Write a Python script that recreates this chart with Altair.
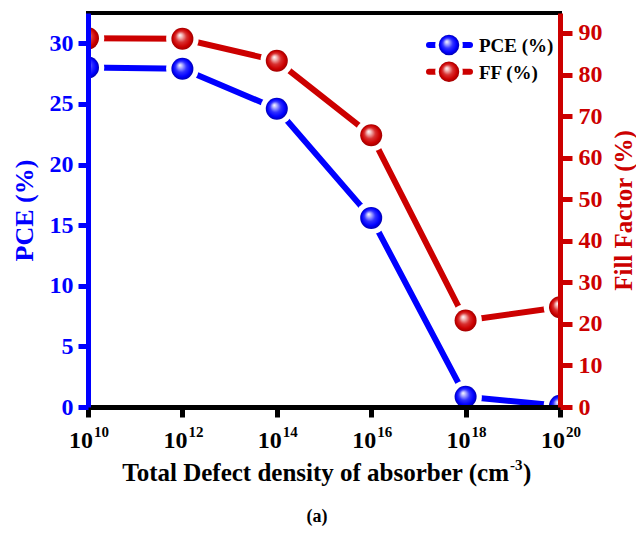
import altair as alt
import pandas as pd

# Total defect density of the absorber layer (cm^-3) and device response
density = [1e10, 1e12, 1e14, 1e16, 1e18, 1e20]
exponents = ["10", "12", "14", "16", "18", "20"]
pce = [28.0, 27.9, 24.6, 15.6, 0.85, 0.1]
ff = [88.7, 88.6, 83.3, 65.4, 20.8, 24.0]

series_names = ["PCE (%)", "FF (%)"]

W, H = 472, 394
FONT = "Liberation Serif"
BLUE = "#0000ff"
RED = "#cc0000"

df = pd.DataFrame({"density": density, "exp": exponents, "pce": pce, "ff": ff})

x_scale = alt.Scale(type="log", domain=[1e10, 1e20], nice=False)
x_enc = alt.X("density:Q", scale=x_scale,
              axis=alt.Axis(values=density, labels=False, title=None,
                            domainColor="black", domainWidth=5,
                            tickColor="black", tickWidth=5, tickSize=10,
                            grid=False, zindex=1))


def ball(light, mid, main, dark):
    return {
        "gradient": "radial",
        "x1": 0.38, "y1": 0.33, "r1": 0.0,
        "x2": 0.5, "y2": 0.5, "r2": 0.5,
        "stops": [
            {"offset": 0.0, "color": "#ffffff"},
            {"offset": 0.18, "color": light},
            {"offset": 0.5, "color": mid},
            {"offset": 0.8, "color": main},
            {"offset": 1.0, "color": dark},
        ],
    }


BLUE_BALL = ball("#b8b8ff", "#3030ff", BLUE, "#0000b0")
RED_BALL = ball("#f4c0c0", "#d83030", RED, "#a00000")

SIZE_PT = 484
SIZE_HALO = 1060


def series(field, color, fill, y_axis, domain):
    y = alt.Y(f"{field}:Q", scale=alt.Scale(domain=domain, nice=False, zero=True), axis=y_axis)
    base = alt.Chart(df)
    line = base.mark_line(color=color, strokeWidth=6, clip=True).encode(x=x_enc, y=y)
    halo = base.mark_circle(size=SIZE_HALO, color="white", opacity=1, clip=True).encode(x=x_enc, y=y)
    pts = base.mark_circle(size=SIZE_PT, fill=fill, opacity=1, strokeWidth=0, clip=True).encode(x=x_enc, y=y)
    return alt.layer(line, halo, pts)


left_axis = alt.Axis(
    orient="left", values=[0, 5, 10, 15, 20, 25, 30], title="PCE (%)",
    domainColor=BLUE, domainWidth=5, tickColor=BLUE, tickWidth=5, tickSize=10,
    labelColor=BLUE, labelFont=FONT, labelFontWeight="bold", labelFontSize=24, labelPadding=5,
    titleColor=BLUE, titleFont=FONT, titleFontWeight="bold", titleFontSize=26,
    titleAngle=270, titleX=-64, titleY=H / 2, titleAlign="center", titleBaseline="middle",
    grid=False, zindex=1)

right_axis = alt.Axis(
    orient="right", values=[0, 10, 20, 30, 40, 50, 60, 70, 80, 90], title="Fill Factor (%)",
    domainColor=RED, domainWidth=5, tickColor=RED, tickWidth=5, tickSize=12,
    labelColor=RED, labelFont=FONT, labelFontWeight="bold", labelFontSize=24, labelPadding=6,
    titleColor=RED, titleFont=FONT, titleFontWeight="bold", titleFontSize=25,
    titleAngle=270, titleX=63, titleY=H / 2, titleAlign="center", titleBaseline="middle",
    grid=False, zindex=1)

pce_layer = series("pce", BLUE, BLUE_BALL, left_axis, [0, 32.5])
ff_layer = series("ff", RED, RED_BALL, right_axis, [0, 94.8])

# x tick labels: "10" with a raised exponent
tick_base = alt.Chart(df).mark_text(
    font=FONT, fontWeight="bold", fontSize=24, align="right", dx=5, baseline="alphabetic", color="black"
).encode(x=alt.X("density:Q", scale=x_scale), y=alt.value(435), text=alt.value("10"))
tick_sup = alt.Chart(df).mark_text(
    font=FONT, fontWeight="bold", fontSize=15, align="left", dx=6, baseline="alphabetic", color="black"
).encode(x=alt.X("density:Q", scale=x_scale), y=alt.value(424), text="exp:N")

# x axis title with superscript unit
title_main = alt.Chart(df.head(1)).mark_text(
    font=FONT, fontWeight="bold", fontSize=25, align="right", baseline="alphabetic", color="black"
).encode(x=alt.value(421), y=alt.value(468), text=alt.value("Total Defect density of absorber (cm"))
title_sup = alt.Chart(df.head(1)).mark_text(
    font=FONT, fontWeight="bold", fontSize=15, align="left", baseline="alphabetic", color="black"
).encode(x=alt.value(422), y=alt.value(457), text=alt.value("-3"))
title_close = alt.Chart(df.head(1)).mark_text(
    font=FONT, fontWeight="bold", fontSize=25, align="left", baseline="alphabetic", color="black"
).encode(x=alt.value(435), y=alt.value(468), text=alt.value(")"))

caption = alt.Chart(df.head(1)).mark_text(
    font=FONT, fontWeight="bold", fontSize=18, align="center", baseline="alphabetic", color="black"
).encode(x=alt.value(229), y=alt.value(509), text=alt.value("(a)"))

# legend: line with ball marker, then label
legend_layers = []
for name, color, fill, ly in [(series_names[0], BLUE, BLUE_BALL, 32), (series_names[1], RED, RED_BALL, 58.7)]:
    one = alt.Chart(df.head(1))
    legend_layers += [
        one.mark_rule(color=color, strokeWidth=6, strokeCap="round").encode(
            x=alt.value(341), x2=alt.value(382), y=alt.value(ly)),
        one.mark_circle(size=SIZE_HALO - 300, color="white", opacity=1).encode(
            x=alt.value(361), y=alt.value(ly)),
        one.mark_circle(size=420, fill=fill, opacity=1, strokeWidth=0).encode(
            x=alt.value(361), y=alt.value(ly)),
        one.mark_text(font=FONT, fontWeight="bold", fontSize=19, align="left",
                      baseline="middle", color="black").encode(
            x=alt.value(391), y=alt.value(ly + 1), text=alt.value(name)),
    ]

chart = alt.layer(
    pce_layer, ff_layer, tick_base, tick_sup, title_main, title_sup, title_close, caption, *legend_layers
).resolve_scale(y="independent").properties(
    width=W, height=H,
    autosize=alt.AutoSizeParams(type="none"),
    padding={"left": 88, "top": 13, "right": 76, "bottom": 133},
    background="white",
).configure_view(stroke="black", strokeWidth=4)

chart.save("out.html", embed_options={"renderer": "svg", "actions": False})
